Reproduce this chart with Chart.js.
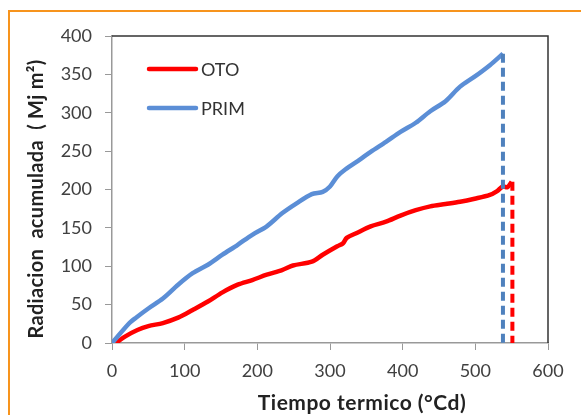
<!DOCTYPE html>
<html>
<head>
<meta charset="utf-8">
<script src="https://cdn.jsdelivr.net/npm/chart.js@4"></script>
<style>
  body { margin: 0; background: #fff; }
  #wrap { position: relative; width: 581px; height: 415px; }
  #frame { position: absolute; left: 8px; top: 10px; right: 0; bottom: 0; border-top: 2px solid #F7941D; border-left: 2px solid #F7941D; pointer-events: none; }
  canvas { position: absolute; left: 0; top: 0; }
</style>
</head>
<body>
<div id="wrap">
  <canvas id="chart" width="581" height="415"></canvas>
  <div id="frame"></div>
</div>
<script>
// OTO series (thermal time, accumulated radiation)
const otoX = [5, 19, 35, 50, 70, 91, 111, 132, 152, 173, 193, 213, 234, 249, 275, 290, 310, 318, 323, 336, 356, 377, 397, 418, 438, 459, 479, 499, 520, 530, 538, 544, 550];
const otoY = [0, 9, 17, 22, 26, 33, 43, 54, 66, 76, 82, 89, 95, 101, 106, 115, 126, 130, 137, 143, 152, 158, 166, 173, 178, 181, 184, 188, 193, 198, 204, 203, 210];
// PRIM series
const primX = [0, 24, 33, 50, 70, 91, 111, 132, 152, 173, 193, 213, 234, 254, 275, 290, 300, 310, 321, 341, 356, 377, 397, 418, 438, 459, 479, 499, 520, 538];
const primY = [0, 26, 33, 45, 58, 76, 91, 102, 115, 128, 141, 152, 169, 182, 194, 197, 204, 217, 226, 239, 249, 262, 275, 287, 302, 315, 334, 347, 362, 377];
// end markers (dashed drop lines)
const otoEnd = [551, 210];
const primEnd = [538, 377];

const xTicks = [0, 100, 200, 300, 400, 500, 600];
const yTicks = [0, 50, 100, 150, 200, 250, 300, 350, 400];

const red = '#FF0000';
const blue = '#5B8ED6';

const pts = (xs, ys) => xs.map((x, i) => ({ x: x, y: ys[i] }));
const drop = e => [{ x: e[0], y: e[1] }, { x: e[0], y: 0 }];

const frameAndLegend = {
  id: 'frameAndLegend',
  afterDraw(chart) {
    const { ctx, chartArea: a } = chart;
    ctx.save();
    ctx.strokeStyle = '#333';
    ctx.lineWidth = 1.5;
    ctx.beginPath();
    ctx.moveTo(a.left, a.top);
    ctx.lineTo(a.right, a.top);
    ctx.lineTo(a.right, a.bottom);
    ctx.stroke();

    // legend inside plot
    const items = chart.data.datasets.filter(d => d.label);
    items.forEach((d, i) => {
      const y = a.top + 33 + i * 39;
      ctx.strokeStyle = d.borderColor;
      ctx.lineWidth = 4.5;
      ctx.lineCap = 'round';
      ctx.beginPath();
      ctx.moveTo(a.left + 37, y);
      ctx.lineTo(a.left + 84, y);
      ctx.stroke();
      ctx.fillStyle = '#333';
      ctx.font = '18px Lato';
      ctx.textBaseline = 'middle';
      ctx.textAlign = 'left';
      ctx.fillText(d.label, a.left + 89, y + 1);
    });

    // axis titles
    ctx.fillStyle = '#222';
    ctx.font = 'bold 21px Lato';
    ctx.letterSpacing = '0.5px';
    ctx.textAlign = 'center';
    ctx.textBaseline = 'middle';
    ctx.fillText('Tiempo termico (°Cd)', 362, 403);
    ctx.translate(37, 199);
    ctx.rotate(-Math.PI / 2);
    ctx.font = 'bold 20px Lato';
    ctx.letterSpacing = '0.3px';
    ctx.fillText('Radiacion  acumulada  ( Mj m²)', 0, 0);
    ctx.restore();
  }
};

new Chart(document.getElementById('chart').getContext('2d'), {
  type: 'line',
  data: {
    datasets: [
      { label: 'OTO', data: pts(otoX, otoY), borderColor: red, borderWidth: 4.5, tension: 0.3, order: 4 },
      { label: 'PRIM', data: pts(primX, primY), borderColor: blue, borderWidth: 4.5, tension: 0.3, order: 2 },
      { data: drop(primEnd), borderColor: '#4F81BD', borderWidth: 4, borderDash: [9, 5], order: 1 },
      { data: drop(otoEnd), borderColor: red, borderWidth: 4, borderDash: [9, 5], order: 3 },
    ]
  },
  options: {
    responsive: false,
    animation: false,
    elements: { point: { radius: 0 } },
    layout: { padding: { left: 0, top: 36, right: 33, bottom: 0 } },
    plugins: { legend: { display: false }, tooltip: { enabled: false } },
    scales: {
      x: {
        type: 'linear', min: 0, max: 600,
        afterBuildTicks: s => { s.ticks = xTicks.map(v => ({ value: v })); },
        afterFit: s => { s.height = 72; },
        grid: { drawOnChartArea: false, tickLength: 7, color: '#999' },
        border: { color: '#999', width: 1.5 },
        ticks: { color: '#404040', font: { family: 'Lato', size: 18 }, padding: 10, maxRotation: 0 }
      },
      y: {
        type: 'linear', min: 0, max: 400,
        afterBuildTicks: s => { s.ticks = yTicks.map(v => ({ value: v })); },
        afterFit: s => { s.width = 112; },
        grid: { drawOnChartArea: false, tickLength: 7, color: '#999' },
        border: { color: '#999', width: 1.5 },
        ticks: { color: '#404040', font: { family: 'Lato', size: 18 }, padding: 13 }
      }
    }
  },
  plugins: [frameAndLegend]
});
</script>
</body>
</html>
